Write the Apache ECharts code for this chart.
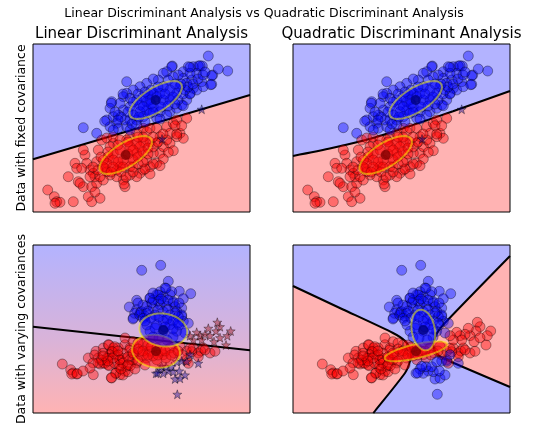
<!DOCTYPE html>
<html><head><meta charset="utf-8">
<script src="https://cdn.jsdelivr.net/npm/echarts@6/dist/echarts.min.js"></script>
<style>html,body{margin:0;padding:0;background:#fff}#c{width:538px;height:426px}</style>
</head><body><div id="c"></div>
<script>
// ---------- data (panel-relative units) ----------
const xExtent = [0, 217];
const yExtent = [0, 168];

const titleMain = 'Linear Discriminant Analysis vs Quadratic Discriminant Analysis';
const colTitles = ['Linear Discriminant Analysis', 'Quadratic Discriminant Analysis'];
const rowTitles = ['Data with fixed covariance', 'Data with varying covariances'];

// fixed covariance dataset
const fixedRed = [[14.7,22],[21.3,15.3],[23.7,10.3],[27,9.7],[22,8.7],[35.3,35.3],[40.3,10.3],[42,48.7],[43.7,43.7],[45.3,30.3],[50.3,25.3],[47,28.7],[52,57],[53.7,48.7],[50.3,62],[57,42],[55.3,15.3],[58.7,25.3],[58.7,10.3],[63.7,28.7],[67,13.7],[62,35.3],[63.7,50.3],[65.3,62],[68.7,72],[73.7,74],[80.3,68.7],[80,75],[97,75.3],[103.7,78.7],[110.3,83.7],[113.7,80.3],[117,83.7],[123.7,83.7],[127,75.3],[133.7,85.3],[137,78.7],[140.3,88.7],[143.7,92],[147,78.7],[150.3,73.7],[153.7,93.7],[137,68.7],[127,58.7],[120.3,58.7],[123.7,48.7],[117,45.3],[110.3,42],[107,38.7],[103.7,35.3],[97,37],[90.3,32],[92,25.3],[83.7,35.3],[77,37],[73.7,40.3],[70.3,32],[67,35.3],[60.3,38.7],[97,45.3],[113.7,52],[130.3,65.3],[123.7,68.7],[117,70.3],[110.3,70.3],[103.7,68.7],[80.3,58.7],[75.3,55.3],[87,45.3],[72,43.7],[57,35.3],[48.7,43.7],[80.3,52],[87,62],[97,65.3],[103.7,58.7],[90.3,52],[100.3,52],[73.7,48.7],[107,65.3],[93.7,72],[87,72],[77,65.3],[83.7,42],[70.3,52],[143.7,75.3],[133.7,72],[91,28],[62,20],[140.3,61.3],[135.3,59.7],[130.3,53],[127,46.3],[120.3,48],[117,38],[112,43],[148.7,86.3],[142,86.3],[143.7,78],[85,50],[95,58],[100,62],[105,55],[110,60],[115,64],[120,65],[125,70],[90,45],[80,45],[75,60],[85,67],[95,70],[100,45],[105,48],[110,50],[115,58],[70,45],[65,42],[60,45],[68,55],[78,40],[88,40],[93,35],[100,40],[120,75],[130,78],[110,75],[105,75]];
const fixedBlue = [[175.3,156],[194.7,141],[179.7,137],[178.7,127.7],[169.3,146],[165.3,146],[160.3,145.3],[155.3,145.3],[150.3,140.3],[139.3,146],[133.7,140.3],[130.3,138.7],[150.3,133.7],[158.7,132],[168.7,130.3],[163.7,138.7],[157,138.7],[145.3,137],[140.3,135.3],[135.3,132],[125.3,132],[113.7,128.7],[107,125.3],[93.7,130.3],[100.3,122],[93.7,118.7],[90.3,115.3],[78.7,110.3],[77,103.7],[73.7,92],[80.3,95.3],[83.7,88.7],[77,85.3],[85.3,83.7],[50.3,84.3],[63.7,78.7],[93.7,85.3],[97,92],[103.7,92],[110.3,95.3],[113.7,102],[120.3,105.3],[127,100.3],[137,100.3],[143.7,103.7],[148.7,107],[153.7,112],[157,118.7],[160.3,123.7],[163.7,122],[170.3,125.3],[143.7,118.7],[137,122],[130.3,125.3],[120.3,118.7],[117,112],[107,107],[103.7,112],[97,105.3],[90.3,102],[87,108.7],[85.3,97],[107,100.3],[112,90.3],[123.7,93.7],[133.7,97],[97,113.7],[147,125.3],[153.7,128.7],[123.7,115.3],[130.3,112],[113.7,110.3],[137,112],[127,118.7],[110.3,105.3],[117,98.7],[100.3,97],[92,92],[127,93],[103.7,87],[97,82],[80.3,82],[185.3,143],[178.7,136.3],[177.7,127.3],[167,146.3],[157,144.7],[138.7,145.3],[120.3,133],[157,118],[150.3,106.3],[78.3,108.7],[90,118],[71.7,90.7],[115,118],[118,122],[125,125],[132,118],[140,115],[145,112],[110,115],[105,118],[100,110],[95,100],[88,95],[82,100],[85,92],[120,100],[128,105],[135,106],[142,108],[150,118],[152,122],[155,125],[160,128],[165,133],[170,137],[172,140],[148,128],[142,128],[112,120],[118,108],[106,95],[99,88]];
const fixedRedStars = [];
const fixedBlueStars = [[168.7,102.7],[129,73]];
const fixedMeanRed = [92.7, 57];
const fixedMeanBlue = [122.7, 112];
const fixedCovShape = [30, 12, 32];          // semi-axis 1, semi-axis 2, angle (deg)
const fixedLdaBoundary = [[0,52.7],[217,117]];
const fixedQdaBoundary = [[0,56],[40,64.2],[80,74],[120,87],[160,100.8],[217,121]];

// varying covariances dataset
const varyRed = [[29.3,49],[37.7,43.3],[40.3,40],[43.7,39],[38.7,39],[60.3,38.3],[55.3,55],[63,61.7],[70.3,65],[75.3,68.3],[78.7,61.7],[73.7,55],[67,49],[75.3,48.3],[78.7,35],[83,40],[86.3,45.7],[92,41.7],[93.7,46.7],[87,53.3],[82,58.3],[85.3,65],[92,68.3],[92,75],[97,65],[97,53.3],[100.3,58.3],[103.7,50],[87,38.3],[70.3,50],[65.3,55],[80.3,65],[77,58.3],[110.3,68.3],[117,61.7],[123.7,65],[130.3,58.3],[137,65],[113.7,55],[123.7,53.3],[107,61.7],[147,66.7],[153.7,61.7],[160.3,65],[165.3,60],[170.3,65],[177,60],[182,61.7],[153.7,53.3],[148.7,58.3],[167.7,62],[165.3,56.3],[158.7,61.3],[155.3,49.7],[157,64.7],[172,63],[44.3,39.3],[61.7,58],[70,59.7],[76,68],[81.7,66.3],[79.3,61.3],[75,54.7],[71.7,49.7],[76,47.3],[82.7,39.7],[78.3,35.3],[90,38],[95,41.3],[86.7,48],[90,54.7],[96.7,63],[90,59.7],[85,58],[100,71.3],[100,53],[86.7,53],[81.7,49.7],[68.3,53],[97.3,47.3],[105,70],[115,68],[128,62],[141,60],[120,57],[110,58],[133,55],[80,55],[85,62],[90,50],[95,56],[100,60],[105,64],[105,52],[110,62],[115,58],[118,66],[125,58],[132,62],[138,58],[145,62],[75,52],[70,57],[65,50],[88,44],[95,48],[102,44],[60,50],[57,45],[50,42],[112,48]];
const varyBlue = [[127.7,147.7],[108.7,142.7],[135.3,131.7],[132,125],[146.3,121.7],[157.7,119.3],[150.3,114.3],[103.7,112.7],[96.3,106],[117,115],[123.7,118.3],[130.3,116.7],[137,118.3],[140.3,110],[148.7,105],[113.7,106.7],[120.3,105],[127,108.3],[133.7,106.7],[107,100],[100.3,95],[103.7,103.3],[112,96.7],[148.7,96.7],[125.3,111.7],[130.3,111.7],[118.7,110],[143.7,101.7],[150.3,91.7],[130.3,81.7],[123.7,88.3],[137,88.3],[117,81.7],[143.7,81.7],[130.3,91.7],[155.3,89.7],[148.7,98],[101.7,99.7],[100,94],[106.7,98],[108.3,101.3],[113.7,99.7],[122,98],[130.3,101.3],[137,98],[145.3,96.3],[110.3,94.7],[117,114.7],[127,121.3],[138.7,121.3],[133,124.7],[120.3,113],[125.3,118],[142,106.3],[140.3,111.3],[114,88],[120,76],[140,76],[134,73],[126,75],[146,88],[152,80],[115,102],[125,103],[135,103],[128,114],[120,120],[135,113],[142,100],[110,108],[105,110],[146,110],[118,95],[126,96],[134,94],[140,92],[112,92],[122,85],[132,86],[140,84],[145,90]];
const varyRedStars = [[197.7,82],[194.3,77.3],[187,86.3],[184.3,90.7],[183,82],[177,77.3],[175.3,84.7],[172,78.7],[167,77.3],[163.7,80.7],[168.7,73],[160.3,73],[193,68],[181,71.3],[157,77.3],[187,75.3]];
const varyBlueStars = [[144.3,18.7],[142,34],[147,34.7],[152,38],[140.3,41.3],[135.3,42],[130.3,39.7],[127,44],[133,46.3],[138.7,46.3],[146.3,42],[123,39.7],[148.7,52],[143.7,51.3],[165.3,49.7],[124.7,40],[153.7,51.7],[157,58.3],[128.7,46.7]];
const varyMeanRed = [123, 61.7];
const varyMeanBlue = [130.3, 83];
const varyLdaShape = [24, 16.3, -8];
const varyQdaShapeRed = [32, 7, 13];
const varyQdaShapeBlue = [20.5, 11.5, 100];
const varyLdaBoundary = [[0,86.3],[217,62.7]];
const varyQdaBranchLeft = [[0,127],[50,103.5],[100,80],[112,72],[118,62],[117,52],[112,40],[82,2],[80.3,0]];
const varyQdaBranchRight = [[217,157],[150,88],[143,78],[140,68],[144,59],[154,53],[217,26]];

// ---------- styles ----------
const BLUE_BG = '#b3b3ff', RED_BG = '#ffb3b3';
const panels = [
  {left:33, top:44}, {left:293, top:44}, {left:33, top:245}, {left:293, top:245}
];
const PW = 217, PH = 168;

const rectPts = [[xExtent[0],yExtent[0]],[xExtent[1],yExtent[0]],[xExtent[1],yExtent[1]],[xExtent[0],yExtent[1]]];
const topEdge = [[xExtent[1],yExtent[1]],[xExtent[0],yExtent[1]]];

const backgrounds = [
  [{pts: rectPts, fill: RED_BG}, {pts: fixedLdaBoundary.concat(topEdge), fill: BLUE_BG}],
  [{pts: rectPts, fill: RED_BG}, {pts: fixedQdaBoundary.concat(topEdge), fill: BLUE_BG}],
  [{pts: rectPts, fill: new echarts.graphic.LinearGradient(0,0,0,1,[
      {offset:0, color:'#b3b3ff'},{offset:0.56, color:'#d9b3d9'},{offset:1, color:'#ffb3b3'}])}],
  [{pts: rectPts, fill: BLUE_BG},
   {pts: varyQdaBranchLeft.concat([[xExtent[0],yExtent[0]]]), fill: RED_BG},
   {pts: varyQdaBranchRight, fill: RED_BG}]
];

function bgSeries(p) {
  const polys = backgrounds[p];
  return {
    type:'custom', xAxisIndex:p, yAxisIndex:p, z:1, silent:true, clip:true,
    data: polys.map(() => [xExtent[0], yExtent[0]]),
    renderItem: (params, api) => {
      const poly = polys[params.dataIndex];
      return {type:'polygon', shape:{points: poly.pts.map(v => api.coord(v))}, style:{fill: poly.fill}};
    }
  };
}
function lineSeries(p, data) {
  return {type:'line', xAxisIndex:p, yAxisIndex:p, z:2, data, symbol:'none', silent:true, clip:true,
    lineStyle:{color:'#000', width:2}};
}
const STAR = 'path://M0,-10L2.35,-3.24L9.51,-3.09L3.8,1.24L5.88,8.09L0,4L-5.88,8.09L-3.8,1.24L-9.51,-3.09L-2.35,-3.24Z';
const PT = 10;
function scatterSeries(p, data, color, symbol, size) {
  return {type:'scatter', xAxisIndex:p, yAxisIndex:p, z:3, data, symbol, symbolSize:size, silent:true, clip:true,
    itemStyle:{color, borderColor:'rgba(0,0,0,0.5)', borderWidth:0.9}};
}
function meanSeries(p, data) {
  return {type:'scatter', xAxisIndex:p, yAxisIndex:p, z:4, data, symbol:'circle', symbolSize:10, silent:true,
    itemStyle:{color:'#000'}};
}
function ellipseSeries(p, ells) {
  return {type:'custom', xAxisIndex:p, yAxisIndex:p, z:5, silent:true, clip:true,
    data: ells.map(e => e.c),
    renderItem: (params, api) => {
      const e = ells[params.dataIndex];
      const [a, b, ang] = e.s; const th = ang*Math.PI/180; const pts = [];
      for (let k = 0; k < 90; k++) {
        const t = k/90*2*Math.PI, u = a*Math.cos(t), v = b*Math.sin(t);
        pts.push(api.coord([e.c[0] + u*Math.cos(th) - v*Math.sin(th), e.c[1] + u*Math.sin(th) + v*Math.cos(th)]));
      }
      return {type:'polygon', shape:{points:pts},
        style:{fill:e.fill, stroke:'rgba(255,255,0,0.5)', lineWidth:2}};
    }};
}
const RED = 'rgba(255,0,0,0.5)', BLU = 'rgba(0,0,255,0.5)';
const RED_STAR = 'rgba(153,0,0,0.5)', BLU_STAR = 'rgba(0,0,153,0.5)';

const series = [];
series.push(bgSeries(0), lineSeries(0, fixedLdaBoundary),
  scatterSeries(0, fixedRed, RED, 'circle', PT), scatterSeries(0, fixedBlue, BLU, 'circle', PT),
  scatterSeries(0, fixedRedStars, RED_STAR, STAR, 9), scatterSeries(0, fixedBlueStars, BLU_STAR, STAR, 9),
  meanSeries(0, [fixedMeanRed, fixedMeanBlue]),
  ellipseSeries(0, [{c:fixedMeanRed, s:fixedCovShape, fill:RED}, {c:fixedMeanBlue, s:fixedCovShape, fill:BLU}]));
series.push(bgSeries(1), Object.assign(lineSeries(1, fixedQdaBoundary), {smooth:0.3}),
  scatterSeries(1, fixedRed, RED, 'circle', PT), scatterSeries(1, fixedBlue, BLU, 'circle', PT),
  scatterSeries(1, fixedRedStars, RED_STAR, STAR, 9), scatterSeries(1, fixedBlueStars, BLU_STAR, STAR, 9),
  meanSeries(1, [fixedMeanRed, fixedMeanBlue]),
  ellipseSeries(1, [{c:fixedMeanRed, s:fixedCovShape, fill:RED}, {c:fixedMeanBlue, s:fixedCovShape, fill:BLU}]));
series.push(bgSeries(2), lineSeries(2, varyLdaBoundary),
  scatterSeries(2, varyRed, RED, 'circle', PT), scatterSeries(2, varyBlue, BLU, 'circle', PT),
  scatterSeries(2, varyRedStars, RED_STAR, STAR, 9), scatterSeries(2, varyBlueStars, BLU_STAR, STAR, 9),
  meanSeries(2, [varyMeanRed, varyMeanBlue]),
  ellipseSeries(2, [{c:varyMeanRed, s:varyLdaShape, fill:RED}, {c:varyMeanBlue, s:varyLdaShape, fill:BLU}]));
series.push(bgSeries(3), Object.assign(lineSeries(3, varyQdaBranchLeft), {smooth:0.2}),
  Object.assign(lineSeries(3, varyQdaBranchRight), {smooth:0.2}),
  scatterSeries(3, varyRed.concat(varyRedStars), RED, 'circle', PT),
  scatterSeries(3, varyBlue.concat(varyBlueStars), BLU, 'circle', PT),
  meanSeries(3, [varyMeanRed, varyMeanBlue]),
  ellipseSeries(3, [{c:varyMeanRed, s:varyQdaShapeRed, fill:RED}, {c:varyMeanBlue, s:varyQdaShapeBlue, fill:BLU}]));

const chart = echarts.init(document.getElementById('c'), null, {renderer:'canvas'});
chart.setOption({
  animation:false,
  backgroundColor:'#fff',
  grid: panels.map(g => ({left:g.left, top:g.top, width:PW, height:PH, show:true,
    backgroundColor:'transparent', borderColor:'#000', borderWidth:1, z:10})),
  xAxis: panels.map((g,i) => ({type:'value', gridIndex:i, min:xExtent[0], max:xExtent[1], show:false})),
  yAxis: panels.map((g,i) => ({type:'value', gridIndex:i, min:yExtent[0], max:yExtent[1], show:false})),
  series,
  graphic: [
    {type:'text', x:264, y:14, style:{text:titleMain, font:'12.5px "DejaVu Sans"', fill:'#000', textAlign:'center', textVerticalAlign:'middle'}},
    {type:'text', x:141.5, y:34, style:{text:colTitles[0], font:'15px "DejaVu Sans"', fill:'#000', textAlign:'center', textVerticalAlign:'middle'}},
    {type:'text', x:401.5, y:34, style:{text:colTitles[1], font:'15px "DejaVu Sans"', fill:'#000', textAlign:'center', textVerticalAlign:'middle'}},
    {type:'text', x:22, y:128, rotation:Math.PI/2, style:{text:rowTitles[0], font:'12.5px "DejaVu Sans"', fill:'#000', textAlign:'center', textVerticalAlign:'middle'}},
    {type:'text', x:22, y:329, rotation:Math.PI/2, style:{text:rowTitles[1], font:'12.5px "DejaVu Sans"', fill:'#000', textAlign:'center', textVerticalAlign:'middle'}}
  ]
});
</script></body></html>
